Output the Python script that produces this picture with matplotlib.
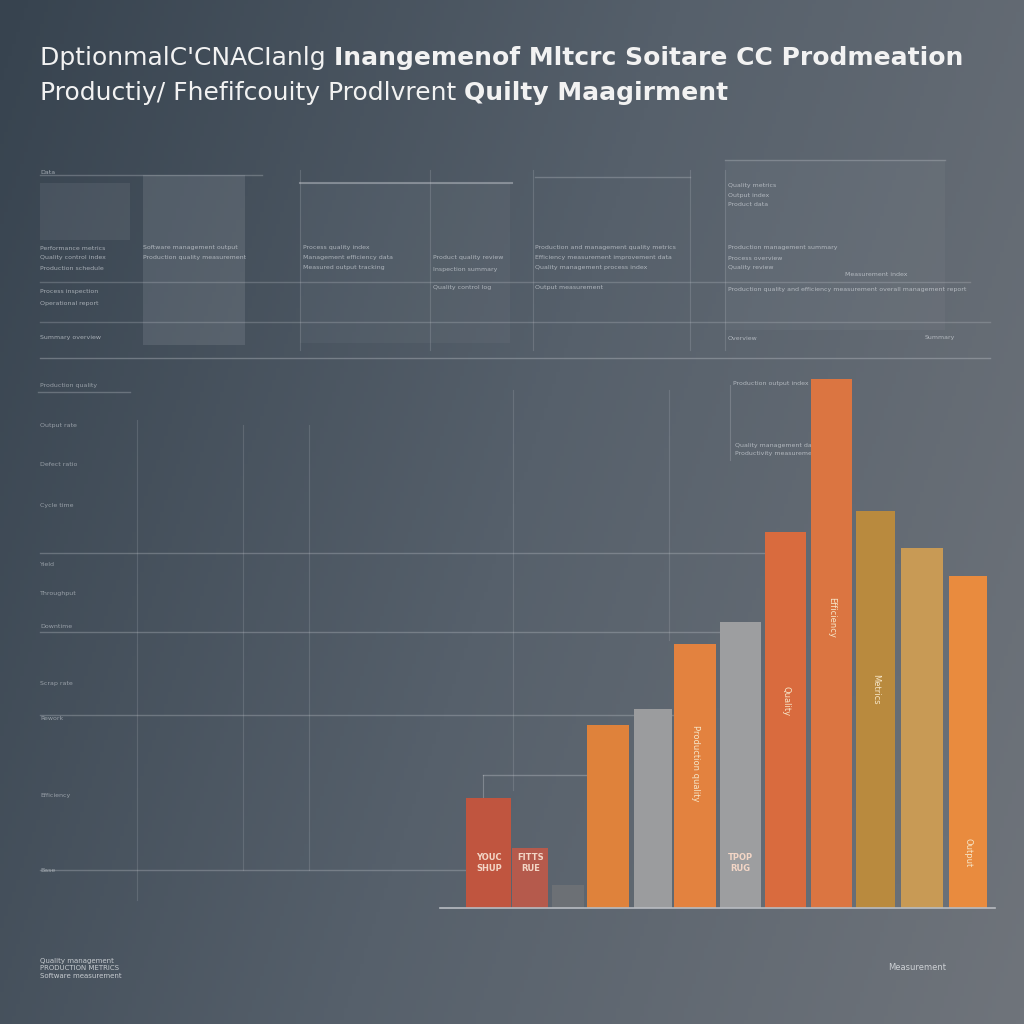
import numpy as np
import matplotlib.pyplot as plt
from matplotlib.colors import LinearSegmentedColormap

# bar data (heights)
bar_values = [110, 60, 23, 183, 199, 264, 286, 376, 529, 397, 360, 332]
bar_colors = ['#c0553f', '#b55a4c', '#6c7075', '#df823b', '#9b9c9e', '#e3823f',
              '#9d9ea0', '#d96b3e', '#db7541', '#b98a3e', '#c89a55', '#e98b3e']
bar_labels = ['YOUC\nSHUP', 'FITTS\nRUE', '', '', '', '', 'TPOP\nRUG', '', '', '', '', '']

# layout of the bars (slot position and width)
bar_pos = [0, 0.95, 1.82, 2.74, 3.76, 4.73, 5.77, 6.8, 7.85, 8.86, 9.93, 10.99]
bar_widths = [1.03, 0.83, 0.73, 0.96, 0.87, 0.96, 0.94, 0.94, 0.94, 0.9, 0.96, 0.87]

title_line1_a = "DptionmalC'CNACIanlg "
title_line1_b = "Inangemenof Mltcrc Soitare CC Prodmeation"
title_line2_a = "Productiy/ Fhefifcouity Prodlvrent "
title_line2_b = "Quilty Maagirment"

left_labels = ['Production quality', 'Output rate', 'Defect ratio', 'Cycle time',
               'Yield', 'Throughput', 'Downtime', 'Scrap rate', 'Rework', 'Efficiency', 'Base']
left_label_y = [385, 425, 465, 505, 565, 593, 627, 683, 719, 795, 870]

fig = plt.figure(figsize=(10.24, 10.24), dpi=100)

# background gradient
bg = fig.add_axes([0, 0, 1, 1])
bg.set_axis_off()
xx, yy = np.meshgrid(np.linspace(0, 1, 256), np.linspace(0, 1, 256))
grad = 0.75 * xx + 0.25 * yy
cmap = LinearSegmentedColormap.from_list('bg', ['#37434f', '#56606b', '#6f747b'])
bg.imshow(grad, cmap=cmap, extent=[0, 1024, 1024, 0], aspect='auto')
bg.set_xlim(0, 1024)
bg.set_ylim(1024, 0)

def hline(y, x0, x1, a=0.25, lw=1.0):
    bg.plot([x0, x1], [y, y], color='#c8ccd2', alpha=a, lw=lw)

def vline(x, y0, y1, a=0.2, lw=0.8):
    bg.plot([x, x], [y0, y1], color='#c8ccd2', alpha=a, lw=lw)

# title
t = bg.text(40, 58, title_line1_a, color='#f2f2f2', fontsize=18, va='center', ha='left')
bg.annotate(title_line1_b, xycoords=t, xy=(1, 0.5), va='center', ha='left',
            color='#f2f2f2', fontsize=18, fontweight='bold')
t2 = bg.text(40, 93, title_line2_a, color='#f2f2f2', fontsize=18, va='center', ha='left')
bg.annotate(title_line2_b, xycoords=t2, xy=(1, 0.5), va='center', ha='left',
            color='#f2f2f2', fontsize=18, fontweight='bold')

# upper panel: faint boxes, lines and text
bg.add_patch(plt.Rectangle((143, 175), 102, 170, color='#aab0b8', alpha=0.18, lw=0))
bg.add_patch(plt.Rectangle((40, 183), 90, 57, color='#aab0b8', alpha=0.12, lw=0))
bg.add_patch(plt.Rectangle((300, 183), 210, 160, color='#aab0b8', alpha=0.07, lw=0))
bg.add_patch(plt.Rectangle((725, 160), 220, 170, color='#aab0b8', alpha=0.07, lw=0))
hline(175, 40, 262, 0.3)
hline(183, 300, 512, 0.45, 1.5)
hline(177, 535, 690, 0.3)
hline(160, 725, 945, 0.3)
hline(282, 40, 970, 0.25)
hline(322, 40, 990, 0.25)
hline(358, 40, 990, 0.35)
for x in [300, 430, 533, 690, 725]:
    vline(x, 170, 350)

upper_text = [
    (40, 172, 'Data'), (40, 248, 'Performance metrics'), (40, 258, 'Quality control index'),
    (40, 268, 'Production schedule'), (40, 292, 'Process inspection'),
    (40, 303, 'Operational report'), (40, 338, 'Summary overview'),
    (143, 248, 'Software management output'), (143, 258, 'Production quality measurement'),
    (303, 248, 'Process quality index'), (303, 258, 'Management efficiency data'),
    (303, 268, 'Measured output tracking'), (433, 258, 'Product quality review'),
    (433, 270, 'Inspection summary'), (433, 287, 'Quality control log'),
    (535, 248, 'Production and management quality metrics'),
    (535, 258, 'Efficiency measurement improvement data'),
    (535, 268, 'Quality management process index'), (535, 287, 'Output measurement'),
    (728, 185, 'Quality metrics'), (728, 195, 'Output index'), (728, 205, 'Product data'),
    (728, 248, 'Production management summary'), (728, 258, 'Process overview'),
    (728, 268, 'Quality review'), (845, 274, 'Measurement index'),
    (728, 289, 'Production quality and efficiency measurement overall management report'),
    (728, 338, 'Overview'), (925, 338, 'Summary'),
]
for x, y, s in upper_text:
    bg.text(x, y, s, color='#dfe3e8', alpha=0.65, fontsize=4.5, va='center', ha='left')

# lower chart gridlines
hline(392, 38, 130, 0.3)
hline(553, 40, 765, 0.3)
hline(632, 40, 720, 0.3)
hline(715, 40, 680, 0.3)
hline(870, 40, 470, 0.3)
for x, y0, y1 in [(137, 420, 900), (243, 425, 870), (309, 425, 870), (513, 390, 790), (669, 390, 640)]:
    vline(x, y0, y1, 0.18)
hline(775, 483, 590, 0.35)
vline(483, 775, 798, 0.35)
vline(730, 385, 460, 0.25)
bg.text(733, 384, 'Production output index', color='#dfe3e8', alpha=0.65, fontsize=4.5, va='center')
bg.text(735, 445, 'Quality management data', color='#dfe3e8', alpha=0.65, fontsize=4.5, va='center')
bg.text(735, 454, 'Productivity measurement', color='#dfe3e8', alpha=0.65, fontsize=4.5, va='center')

for s, y in zip(left_labels, left_label_y):
    bg.text(40, y, s, color='#dfe3e8', alpha=0.55, fontsize=4.5, va='center', ha='left')

# footer
bg.text(40, 968, 'Quality management\nPRODUCTION METRICS\nSoftware measurement', color='#e6e9ec',
        alpha=0.8, fontsize=5, va='center', ha='left', linespacing=1.3)
bg.text(888, 968, 'Measurement', color='#e6e9ec', alpha=0.8, fontsize=6, va='center', ha='left')

# bar chart
ax = fig.add_axes([440 / 1024, 1 - 908 / 1024, 555 / 1024, 548 / 1024])
ax.patch.set_alpha(0)
bars = ax.bar(bar_pos, bar_values, width=bar_widths, color=bar_colors, linewidth=0)
ax.set_xlim(-1.12, 11.6)
ax.set_ylim(0, 548)
for sp in ['top', 'right', 'left']:
    ax.spines[sp].set_visible(False)
ax.spines['bottom'].set_color('#b8bcc2')
ax.spines['bottom'].set_linewidth(1.2)
ax.set_xticks([])
ax.set_yticks([])
for b, s in zip(bars, bar_labels):
    if s:
        ax.text(b.get_x() + b.get_width() / 2, 45, s, color='#f3d6c6', fontsize=6,
                ha='center', va='center', fontweight='bold')
for i, s in [(5, 'Production quality'), (7, 'Quality'), (8, 'Efficiency'), (9, 'Metrics'), (11, 'Output')]:
    ax.text(bar_pos[i], bar_values[i] * 0.55 if i != 11 else 55, s, color='#f6e6c8', fontsize=6,
            rotation=-90, ha='center', va='center')

fig.savefig('out.png', dpi=100)
